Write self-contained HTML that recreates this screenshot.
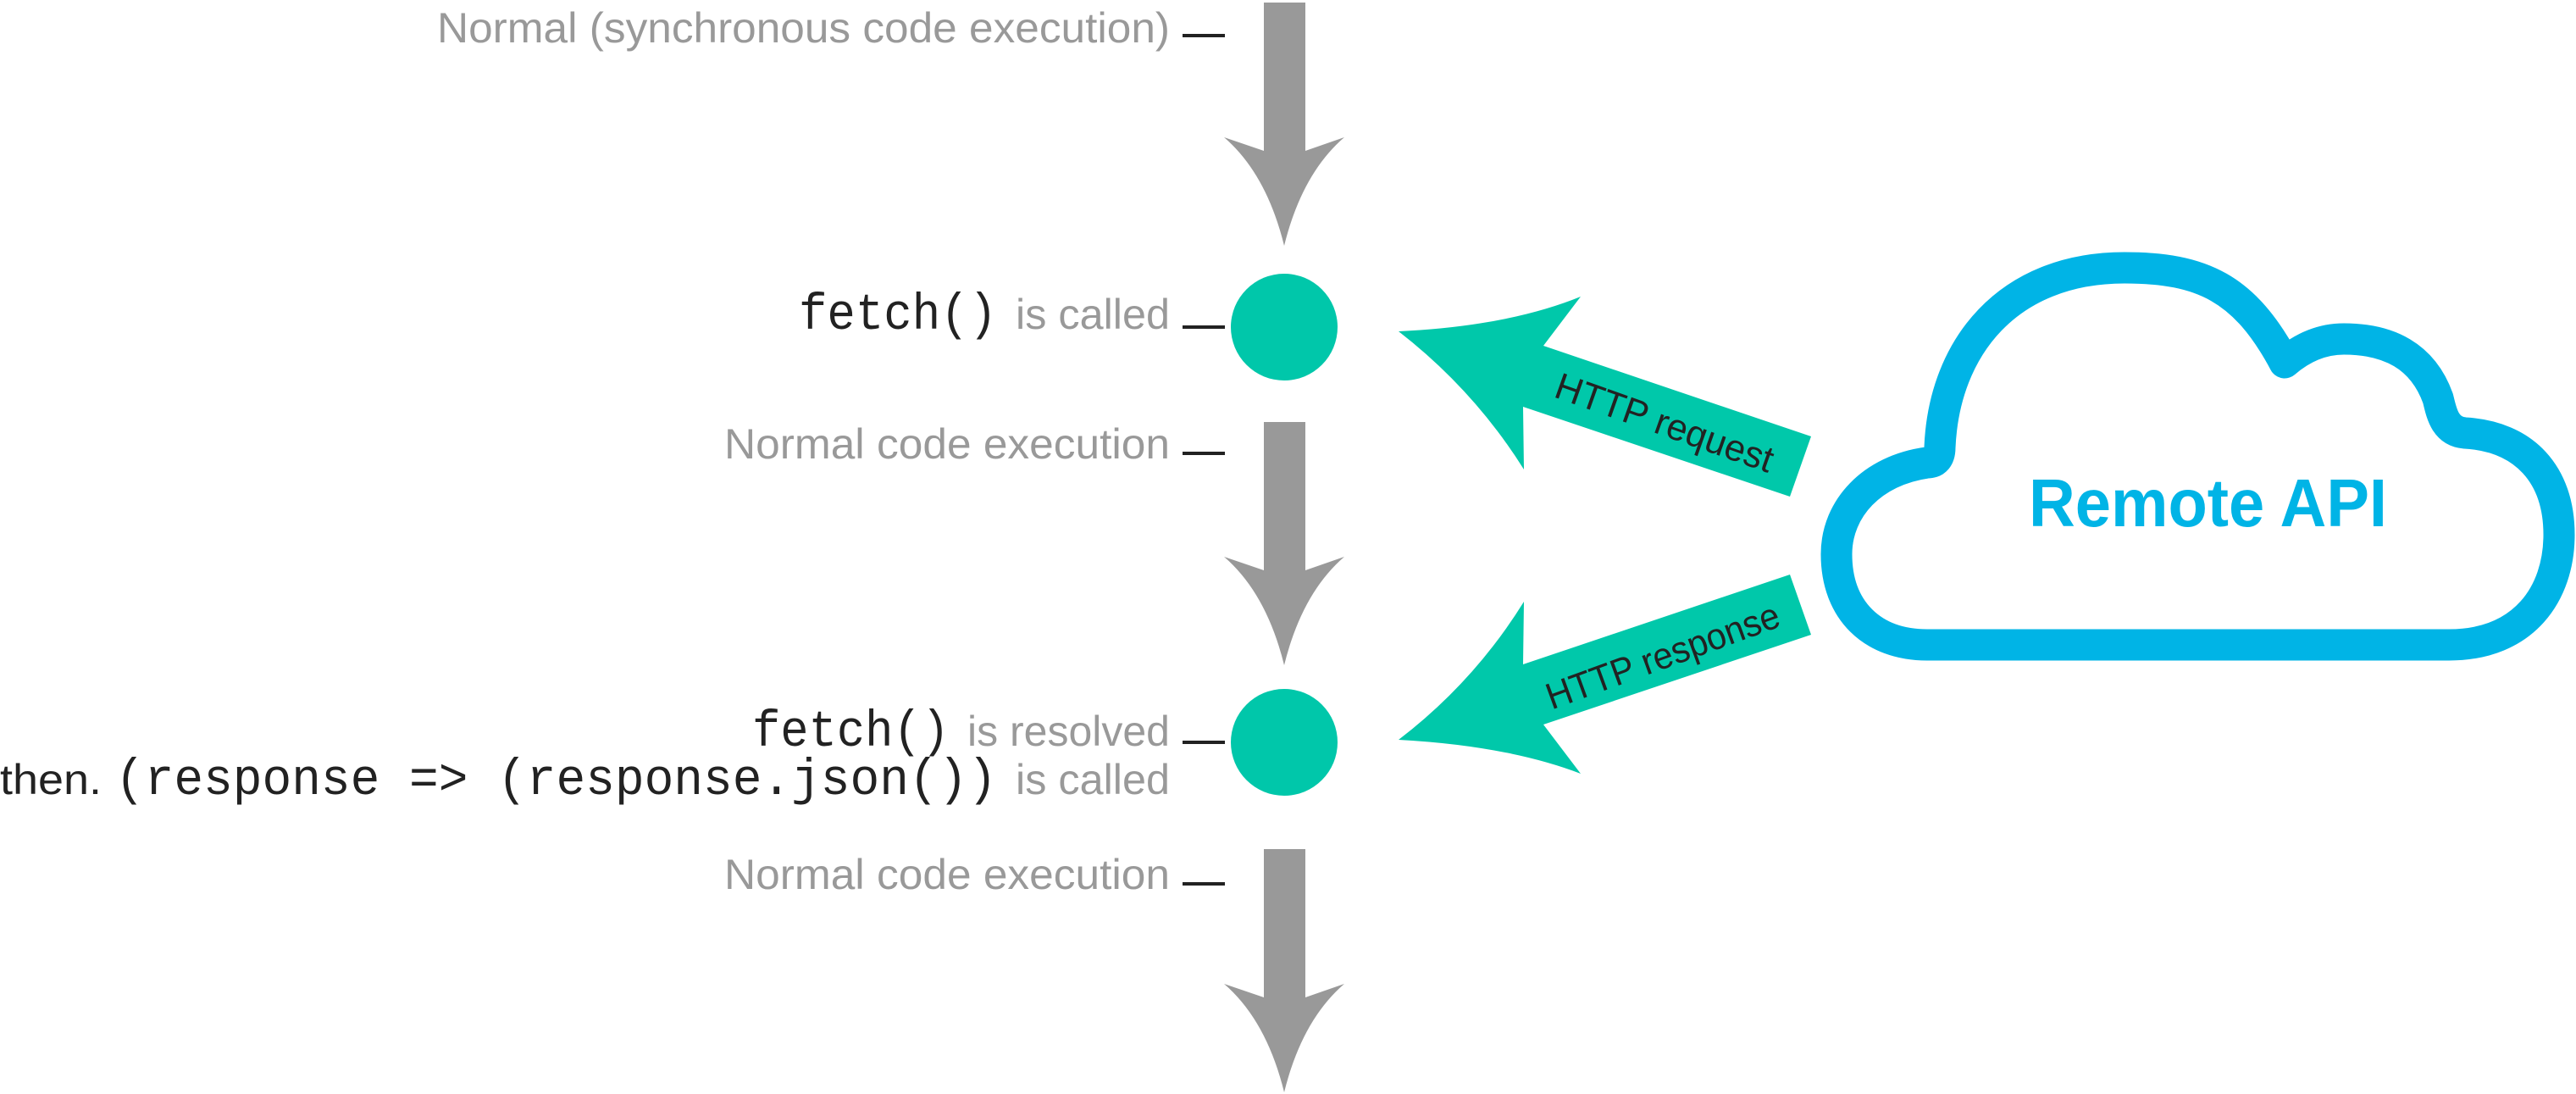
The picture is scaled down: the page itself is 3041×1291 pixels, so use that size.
<!DOCTYPE html>
<html><head><meta charset="utf-8"><style>html,body{margin:0;padding:0;background:#fff}svg{display:block}</style></head>
<body>
<svg width="3041" height="1291" viewBox="0 0 3041 1291" xmlns="http://www.w3.org/2000/svg">
<g fill="#999999">
<path d="M1492 3 L1541 3 L1541 178 L1587 162 Q1537 205 1516 290 Q1495 205 1445 162 L1492 178 Z"/>
<path d="M1492 498 L1541 498 L1541 673 L1587 657 Q1537 700 1516 785 Q1495 700 1445 657 L1492 673 Z"/>
<path d="M1492 1002 L1541 1002 L1541 1177 L1587 1161 Q1537 1204 1516 1289 Q1495 1204 1445 1161 L1492 1177 Z"/>
</g>
<g fill="#222">
<rect x="1396" y="40" width="50" height="4"/>
<rect x="1396" y="384" width="50" height="4"/>
<rect x="1396" y="533" width="50" height="4"/>
<rect x="1396" y="874" width="50" height="4"/>
<rect x="1396" y="1041" width="50" height="4"/>
</g>
<circle cx="1516" cy="386" r="63" fill="#00c7aa"/>
<circle cx="1516" cy="876" r="63" fill="#00c7aa"/>
<g font-family="Liberation Sans, sans-serif" fill="#999" font-size="50">
<text x="516" y="50" textLength="865" lengthAdjust="spacingAndGlyphs">Normal (synchronous code execution)</text>
<text x="1199" y="388" textLength="182" lengthAdjust="spacingAndGlyphs">is called</text>
<text x="855" y="541" textLength="526" lengthAdjust="spacingAndGlyphs">Normal code execution</text>
<text x="1142" y="880" textLength="239" lengthAdjust="spacingAndGlyphs">is resolved</text>
<text x="1199" y="937" textLength="182" lengthAdjust="spacingAndGlyphs">is called</text>
<text x="855" y="1049" textLength="526" lengthAdjust="spacingAndGlyphs">Normal code execution</text>
</g>
<g font-family="Liberation Mono, monospace" fill="#222" font-size="60">
<text x="943" y="388" textLength="234" lengthAdjust="spacingAndGlyphs">fetch()</text>
<text x="888" y="880" textLength="233" lengthAdjust="spacingAndGlyphs">fetch()</text>
<text x="136" y="937" textLength="1041" lengthAdjust="spacingAndGlyphs">(response =&gt; (response.json())</text>
</g>
<text x="0" y="937" font-family="Liberation Sans, sans-serif" font-size="50" fill="#222" textLength="120" lengthAdjust="spacingAndGlyphs">then.</text>
<g fill="#00c8aa">
<path d="M1651 391 Q1780 385 1866 350 L1822 408 L2138 515 L2113 586 L1798 480 L1799 554 Q1740 460 1651 391 Z"/>
<path d="M1651 873 Q1780 880 1866 913 L1822 855 L2138 749 L2113 678 L1798 784 L1799 710 Q1740 805 1651 873 Z"/>
</g>
<g font-family="Liberation Sans, sans-serif" fill="#222" font-size="44">
<text transform="translate(1960,513) rotate(19.5)" text-anchor="middle" textLength="270" lengthAdjust="spacingAndGlyphs">HTTP request</text>
<text transform="translate(1968,788) rotate(-20)" text-anchor="middle" textLength="290" lengthAdjust="spacingAndGlyphs">HTTP response</text>
</g>
<path d="M2275 761 L2891 761 C2980 761 3021 700 3021 631 C3021 560 2980 515 2910 511 C2885 509 2882 485 2878 470 C2860 420 2820 400 2767 400 C2735 400 2712 415 2697 428 C2650 340 2600 316 2508 316 C2370 316 2295 410 2290 528 C2290 540 2285 546 2275 546 C2210 555 2168 600 2168 654 C2168 720 2210 761 2275 761 Z" fill="none" stroke="#00b4e6" stroke-width="37" stroke-linejoin="round"/>
<text x="2395" y="621" font-family="Liberation Sans, sans-serif" font-weight="bold" font-size="80" fill="#00b4e6" textLength="423" lengthAdjust="spacingAndGlyphs">Remote API</text>
</svg>
</body></html>
